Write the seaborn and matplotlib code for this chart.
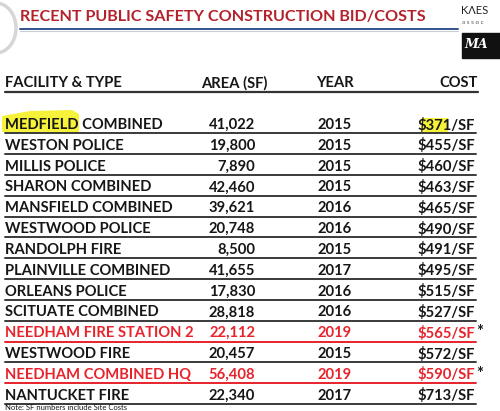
import matplotlib
matplotlib.use("Agg")
import matplotlib.pyplot as plt
from matplotlib import patches
import seaborn as sns
import pandas as pd

facilities = [
    "MEDFIELD COMBINED", "WESTON POLICE", "MILLIS POLICE", "SHARON COMBINED",
    "MANSFIELD COMBINED", "WESTWOOD POLICE", "RANDOLPH FIRE", "PLAINVILLE COMBINED",
    "ORLEANS POLICE", "SCITUATE COMBINED", "NEEDHAM FIRE STATION 2", "WESTWOOD FIRE",
    "NEEDHAM COMBINED HQ", "NANTUCKET FIRE",
]
areas = [41022, 19800, 7890, 42460, 39621, 20748, 8500, 41655, 17830, 28818,
         22112, 20457, 56408, 22340]
years = [2015, 2015, 2015, 2015, 2016, 2016, 2015, 2017, 2016, 2016,
         2019, 2015, 2019, 2017]
costs = [371, 455, 460, 463, 465, 490, 491, 495, 515, 527, 565, 572, 590, 713]
needham = [False] * 10 + [True, False, True, False]

df = pd.DataFrame({"facility": facilities, "area": areas, "year": years,
                   "cost": costs, "needham": needham})

sns.set_theme(style="white")
plt.rcParams["font.family"] = ["Lato", "DejaVu Sans"]

BLACK = "#161616"
RED = "#e8232b"
TITLE_RED = "#b3212b"
YELLOW = "#f6f23a"

fig = plt.figure(figsize=(5, 4.11), dpi=100)
ax = fig.add_axes([0, 0, 1, 1])
# x in pixels, y in table rows (row 0 at pixel 125, 20.82 px per row)
px_row = 20.82
ax.set_xlim(0, 500)
ax.set_ylim((411 - 125) / px_row, -125 / px_row)
ax.axis("off")

def py(p):
    return (p - 125) / px_row

# title
ax.text(20, py(17), "RECENT PUBLIC SAFETY CONSTRUCTION BID/COSTS", color=TITLE_RED,
        fontsize=11.6, fontweight="bold", va="center", ha="left")
ax.plot([20, 458], [py(29.5), py(29.5)], color="#35528c", lw=1.4)
ax.plot([20, 458], [py(31), py(31)], color="#c8ccd4", lw=0.8)

# faint seal at left
ax.add_patch(patches.Ellipse((-4, py(28)), 40, 50 / px_row, fill=False,
                             ec="#d6d6d6", lw=2.5))

# logo
ax.text(461, py(11), "KΛES", color="#222222", fontsize=8, va="center", ha="left")
ax.text(462, py(22), "a s s o c", color="#555555", fontsize=4.5, va="center", ha="left")
ax.add_patch(patches.Rectangle((462, py(33)), 40, 25 / px_row, color="#111111"))
ax.text(464, py(45), "MA", color="white", fontsize=9, fontstyle="italic",
        fontweight="bold", va="center", ha="left", family="DejaVu Serif")

# header
hdr = py(83)
hdr_kw = dict(fontsize=10.6, fontweight="bold", color=BLACK, va="center")
ax.text(5, hdr, "FACILITY & TYPE", ha="left", **hdr_kw)
ax.text(234, hdr, "AREA (SF)", ha="center", **hdr_kw)
ax.text(335, hdr, "YEAR", ha="center", **hdr_kw)
ax.text(478, hdr, "COST", ha="right", **hdr_kw)
ax.plot([5, 478], [py(92), py(92)], color="#333333", lw=1.6)

# highlight on MEDFIELD and 371
ax.add_patch(patches.Polygon(
    [(2, py(116)), (30, py(111)), (72, py(110)), (79, py(114)), (79, py(132)),
     (2, py(132))], closed=True, color=YELLOW, lw=0))
ax.add_patch(patches.Rectangle((421, py(118)), 27, 14 / px_row, color=YELLOW, lw=0))

row_kw = dict(fontsize=10.6, fontweight="bold", va="center")
for i, r in df.iterrows():
    c = RED if r["needham"] else BLACK
    ax.text(5, i, r["facility"], ha="left", color=c, **row_kw)
    ax.text(255, i, f"{r['area']:,}", ha="right", color=c, **row_kw)
    ax.text(335, i, str(r["year"]), ha="center", color=c, **row_kw)
    ax.text(475, i, f"${r['cost']}/SF", ha="right", color=c, **row_kw)
    if r["needham"]:
        ax.text(476, i - 0.05, "*", ha="left", color=BLACK, fontsize=12,
                fontweight="bold", va="center")
    ax.plot([5, 476], [i + 0.4, i + 0.4], color=RED if r["needham"] else "#3a3a3a",
            lw=1.4)

ax.text(5, py(410.5), "Note: SF numbers include Site Costs", fontsize=5.5, color=BLACK,
        ha="left", va="bottom")

fig.savefig("out.png", dpi=100, facecolor="white")
